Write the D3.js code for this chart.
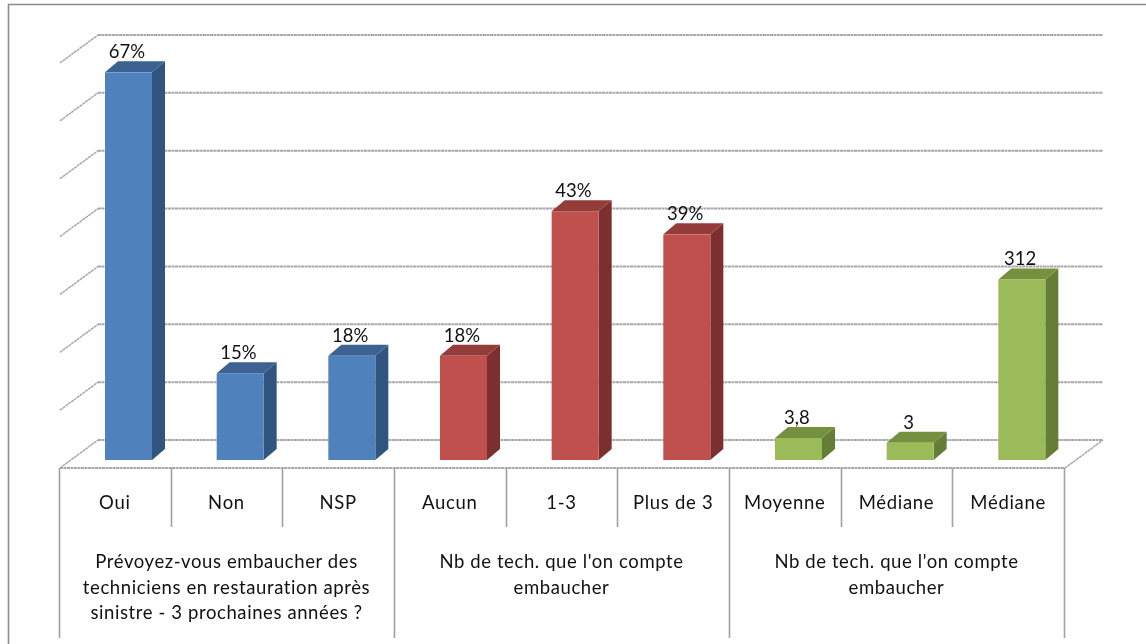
<!DOCTYPE html>
<html>
<head>
<meta charset="utf-8">
<script src="https://cdn.jsdelivr.net/npm/d3@7"></script>
<style>
  html, body { margin: 0; padding: 0; background: #fff; overflow: hidden; }
  text { font-family: Lato, "Open Sans", sans-serif; fill: #111; text-anchor: middle; stroke: none; }
  svg { filter: blur(0.4px); }
</style>
</head>
<body>
<div id="chart"></div>
<script>
var categories = ['Oui', 'Non', 'NSP', 'Aucun', '1-3', 'Plus de 3', 'Moyenne', 'Médiane', 'Médiane'];
var values = [67, 15, 18, 18, 43, 39, 3.8, 3, 31.2];
var valueLabels = ['67%', '15%', '18%', '18%', '43%', '39%', '3,8', '3', '312'];
var groupOf = [0, 0, 0, 1, 1, 1, 2, 2, 2];
var groupLabels = [
  ['Prévoyez-vous embaucher des', 'techniciens en restauration après', 'sinistre - 3 prochaines années ?'],
  ['Nb de tech. que l\'on compte', 'embaucher'],
  ['Nb de tech. que l\'on compte', 'embaucher']
];
var groupStarts = [0, 3, 6];
var groupSizes = [3, 3, 3];
var gridTicks = [0, 10, 20, 30, 40, 50, 60, 70];

var fronts = ['#4f81bd', '#c0504d', '#9bbb59'];
var sides = ['#30557f', '#7b302f', '#667d38'];
var tops = ['#3b6292', '#943c3a', '#75903f'];

var width = 1146, height = 644;
var depthX = 38, depthY = 28;   // floor depth of the 3d box
var barDx = 13, barDy = 11;     // depth of each bar
var barWidth = 47, barOffset = 46;

var svg = d3.select('#chart')
  .append('svg')
  .attr('width', width)
  .attr('height', height);

var x = d3.scaleBand()
  .domain(d3.range(categories.length))
  .range([59, 1064]);

var y = d3.scaleLinear()
  .domain([0, 70])
  .range([468, 63]);

// outer frame, right and bottom run off the picture
svg.append('path')
  .attr('d', 'M8.5,' + height + 'V4.5H' + width)
  .attr('fill', 'none')
  .attr('stroke', '#8c8c8c')
  .attr('stroke-width', 1.6);

// gridlines: back wall and side wall
var grid = svg.append('g')
  .attr('fill', 'none')
  .attr('stroke', '#a8a8a8')
  .attr('stroke-width', 2)
  .attr('stroke-dasharray', '3 0.5');

grid.selectAll('.wall')
  .data(gridTicks)
  .enter()
  .append('line')
  .attr('x1', 60 + depthX)
  .attr('x2', 1065 + depthX)
  .attr('y1', (d) => { return y(d) - depthY; })
  .attr('y2', (d) => { return y(d) - depthY; });

grid.selectAll('.side')
  .data(gridTicks)
  .enter()
  .append('line')
  .attr('stroke-width', 1.5)
  .attr('x1', 60)
  .attr('x2', 60 + depthX)
  .attr('y1', (d) => { return y(d); })
  .attr('y2', (d) => { return y(d) - depthY; });

// right edge of the floor and the front edge
grid.append('line')
  .attr('stroke-width', 1.5)
  .attr('x1', 1065).attr('y1', y(0))
  .attr('x2', 1065 + depthX).attr('y2', y(0) - depthY);
grid.append('line')
  .attr('x1', 60).attr('y1', y(0))
  .attr('x2', 1065).attr('y2', y(0));

// bars sit 8px behind the front edge of the floor
var barBase = y(0) - 8;
var bar = svg.selectAll('.bar')
  .data(values)
  .enter()
  .append('g')
  .attr('class', 'bar');

bar.append('polygon')
  .attr('fill', (d, i) => { return sides[groupOf[i]]; })
  .attr('points', (d, i) => {
    var r = x(i) + barOffset + barWidth, t = y(d) - 8;
    return [[r, t], [r + barDx, t - barDy], [r + barDx, barBase - barDy], [r, barBase]].join(' ');
  });

bar.append('polygon')
  .attr('fill', (d, i) => { return tops[groupOf[i]]; })
  .attr('points', (d, i) => {
    var l = x(i) + barOffset, t = y(d) - 8;
    return [[l, t], [l + barDx, t - barDy], [l + barWidth + barDx, t - barDy], [l + barWidth, t]].join(' ');
  });

bar.append('rect')
  .attr('fill', (d, i) => { return fronts[groupOf[i]]; })
  .attr('x', (d, i) => { return x(i) + barOffset; })
  .attr('y', (d) => { return y(d) - 8; })
  .attr('width', barWidth)
  .attr('height', (d) => { return barBase - y(d) + 8; });

bar.append('text')
  .attr('font-size', 18.5)
  .attr('x', (d, i) => { return x(i) + x.bandwidth() / 2 + 12; })
  .attr('y', (d) => { return y(d) - 8 - barDy - 3; })
  .text((d, i) => { return valueLabels[i]; });

// multi level category table under the floor
var table = svg.append('g')
  .attr('stroke', '#a0a0a0')
  .attr('stroke-width', 1.6);

table.selectAll('.tick')
  .data(d3.range(categories.length + 1))
  .enter()
  .append('line')
  .attr('x1', (d) => { return Math.round(59 + d * x.bandwidth()) + 0.5; })
  .attr('x2', (d) => { return Math.round(59 + d * x.bandwidth()) + 0.5; })
  .attr('y1', 468)
  .attr('y2', (d) => { return d % 3 === 0 ? 638 : 527; });

svg.selectAll('.cat')
  .data(categories)
  .enter()
  .append('text')
  .attr('font-size', 18.5)
  .attr('letter-spacing', 0.7)
  .attr('x', (d, i) => { return x(i) + x.bandwidth() / 2; })
  .attr('y', 509)
  .text((d) => { return d; });

groupLabels.forEach((lines, g) => {
  var cx = x(groupStarts[g]) + x.bandwidth() * groupSizes[g] / 2;
  svg.selectAll('.grp' + g)
    .data(lines)
    .enter()
    .append('text')
    .attr('font-size', 18.5)
    .attr('letter-spacing', 0.6)
    .attr('x', cx)
    .attr('y', (d, i) => { return 568 + i * 25.5; })
    .text((d) => { return d; });
});
</script>
</body>
</html>
